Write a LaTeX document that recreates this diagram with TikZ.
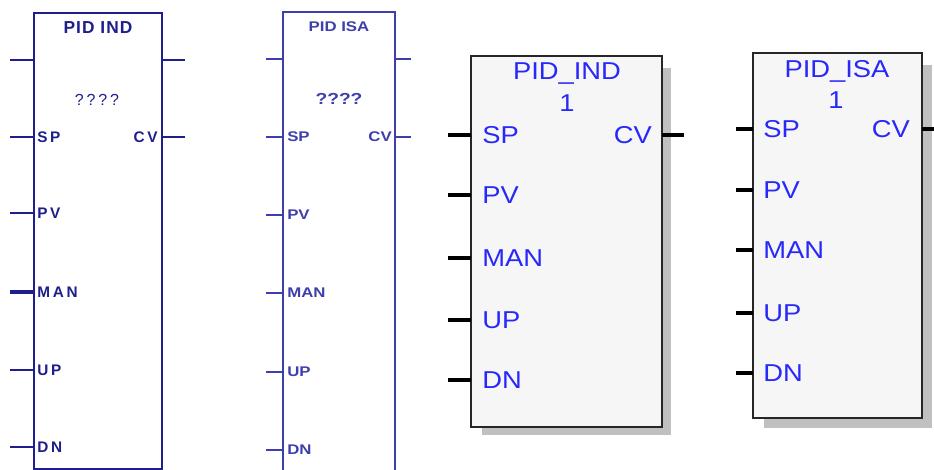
\documentclass[tikz,border=0pt]{standalone}
\usepackage{fontspec}
\usetikzlibrary{calc}
\newfontfamily\oldfont[LetterSpace=18]{Liberation Sans}
\newfontfamily\oldtitlefont[LetterSpace=6]{Liberation Sans}
\newfontfamily\isafont[FakeStretch=1.2]{Liberation Sans}
\newfontfamily\plcfont[FakeStretch=1.12]{Liberation Sans}
\definecolor{indnavy}{RGB}{30,30,140}
\definecolor{isanavy}{RGB}{62,62,172}
\definecolor{plcblue}{RGB}{40,40,250}
\definecolor{plcfill}{RGB}{246,246,246}
\definecolor{plcshadow}{RGB}{192,192,192}

\begin{document}
\begin{tikzpicture}[x=0.75pt,y=-0.75pt,
  indline/.style={indnavy,line width=1.4pt},
  isaline/.style={isanavy,line width=1.4pt},
  indpin/.style={inner sep=0pt,text=indnavy,font=\oldfont\bfseries\fontsize{11.5}{13}\selectfont},
  isapin/.style={inner sep=0pt,text=isanavy,font=\isafont\bfseries\fontsize{10.5}{12}\selectfont},
  plcbox/.style={draw=black!85,fill=plcfill,line width=1.5pt},
  plcstub/.style={black,line width=3pt},
  plcpin/.style={inner sep=0pt,text=plcblue,text depth=0pt,font=\plcfont\fontsize{18.3}{20}\selectfont}]
  \useasboundingbox (0,0) rectangle (934,470);
  \clip (0,0) rectangle (934,470);

  % PID IND, old style
  \coordinate (ind-nw) at (34,13);
  \coordinate (ind-se) at (162,469);
  \draw[indline] (ind-nw) rectangle (ind-se);
  \node[indpin,font=\oldtitlefont\bfseries\fontsize{13}{15}\selectfont] (ind-title) at (98,28) {PID IND};
  \node[indpin,font=\oldfont\fontsize{12}{14}\selectfont] (ind-q) at (97,100) {????};
  \coordinate (ind-in0) at (10,60);
  \coordinate (ind-out0) at (185,60);
  \draw[indline] (ind-in0) -- (ind-in0 -| ind-nw);
  \draw[indline] (ind-out0) -- (ind-out0 -| ind-se);
  \foreach \lab/\yy/\lw in {SP/137/1.4,PV/213/1.4,MAN/292/2.3,UP/370/1.4,DN/447/1.4}{
    \node[indpin,anchor=west] (ind-\lab) at (37,\yy) {\lab};
    \draw[indline,line width=\lw pt] (ind-nw |- ind-\lab) -- ++(-24,0);
  }
  \node[indpin,anchor=east] (ind-CV) at (158,137) {CV};
  \draw[indline] (ind-se |- ind-CV) -- ++(23,0);

  % PID ISA, old style
  \coordinate (isa-nw) at (283,12);
  \coordinate (isa-se) at (395,480);
  \draw[isaline] (isa-nw) rectangle (isa-se);
  \node[isapin] (isa-title) at (339,27) {PID ISA};
  \node[isapin,font=\isafont\bfseries\fontsize{12}{14}\selectfont] (isa-q) at (339,99) {????};
  \coordinate (isa-in0) at (266,59);
  \coordinate (isa-out0) at (411,59);
  \draw[isaline] (isa-in0) -- (isa-in0 -| isa-nw);
  \draw[isaline] (isa-out0) -- (isa-out0 -| isa-se);
  \foreach \lab/\yy in {SP/137,PV/215,MAN/293,UP/372,DN/450}{
    \node[isapin,anchor=west] (isa-\lab) at (287,\yy) {\lab};
    \draw[isaline] (isa-nw |- isa-\lab) -- ++(-17,0);
  }
  \node[isapin,anchor=east] (isa-CV) at (392,137) {CV};
  \draw[isaline] (isa-se |- isa-CV) -- ++(16,0);

  % PID_IND, new style
  \fill[plcshadow] (482,68) rectangle (671,435);
  \coordinate (pind-nw) at (471,56);
  \coordinate (pind-se) at (662,427);
  \draw[plcbox] (pind-nw) rectangle (pind-se);
  \node[plcpin] (pind-title) at (567,71.5) {PID\_IND};
  \node[plcpin] (pind-num) at (567,103.5) {1};
  \foreach \lab/\yy in {SP/135,PV/195,MAN/258,UP/320,DN/380}{
    \node[plcpin,anchor=west] (pind-\lab) at (482,\yy) {\lab};
    \draw[plcstub] (pind-nw |- pind-\lab) -- ++(-23,0);
  }
  \node[plcpin,anchor=east] (pind-CV) at (652,135) {CV};
  \draw[plcstub] (pind-se |- pind-CV) -- ++(22,0);

  % PID_ISA, new style
  \fill[plcshadow] (764,65) rectangle (932,428);
  \coordinate (pisa-nw) at (753,53);
  \coordinate (pisa-se) at (922,418);
  \draw[plcbox] (pisa-nw) rectangle (pisa-se);
  \node[plcpin] (pisa-title) at (837,69) {PID\_ISA};
  \node[plcpin] (pisa-num) at (836,100) {1};
  \foreach \lab/\yy in {SP/129,PV/190,MAN/250,UP/313,DN/373}{
    \node[plcpin,anchor=west] (pisa-\lab) at (763,\yy) {\lab};
    \draw[plcstub] (pisa-nw |- pisa-\lab) -- ++(-17,0);
  }
  \node[plcpin,anchor=east] (pisa-CV) at (910,129) {CV};
  \draw[plcstub] (pisa-se |- pisa-CV) -- ++(20,0);
\end{tikzpicture}
\end{document}
